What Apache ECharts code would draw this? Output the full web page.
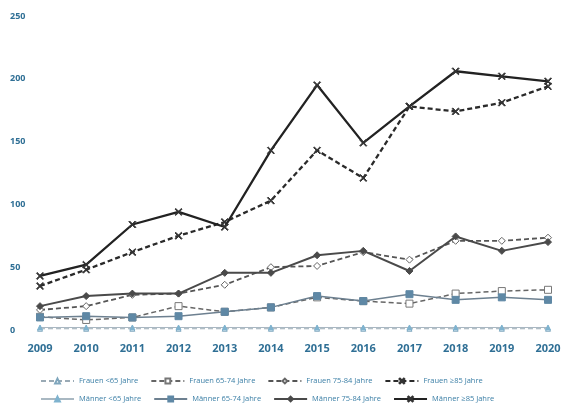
<!DOCTYPE html>
<html>
<head>
<meta charset="utf-8">
<script src="https://cdn.jsdelivr.net/npm/echarts@6/dist/echarts.min.js"></script>
<style>
  html, body { margin: 0; padding: 0; background: #fff; }
  #chart { width: 565px; height: 405px; }
</style>
</head>
<body>
<div id="chart"></div>
<script>
const jahre = ['2009', '2010', '2011', '2012', '2013', '2014', '2015', '2016', '2017', '2018', '2019', '2020'];

const frauenUnter65 = [1, 1, 1, 1, 1, 1, 1, 1, 1, 1, 1, 1];
const frauen65bis74 = [10.5, 8, 10, 19, 14.5, 18, 26, 23, 21, 29, 31, 32];
const frauen75bis84 = [16, 19, 28, 29, 36, 50, 51, 62, 56, 71, 71, 73.5];
const frauenAb85 = [35, 48, 62, 75, 86, 103, 143, 121, 178, 174, 181, 194];

const maennerUnter65 = [2, 2, 2, 2, 2, 2, 2, 2, 2, 2, 2, 2];
const maenner65bis74 = [10, 11, 10, 11, 14.5, 18, 27, 23, 28.5, 24, 26, 24];
const maenner75bis84 = [19, 27, 29, 29, 45.5, 45.5, 59.5, 63, 47, 74.5, 63, 70];
const maennerAb85 = [43, 52, 84, 94, 82, 143, 195, 149, 178, 206, 202, 198];

const yTicks = [0, 50, 100, 150, 200, 250];

const chart = echarts.init(document.getElementById('chart'));

// Kreuz als Marker (gefüllte Form, damit es sichtbar ist)
const kreuz = 'path://M0,1L1,0L5,4L9,0L10,1L6,5L10,9L9,10L5,6L1,10L0,9L4,5Z';

function reihe(name, data, opts) {
  return {
    name: name,
    type: 'line',
    data: data,
    symbol: opts.symbol,
    symbolSize: opts.size,
    showSymbol: true,
    z: opts.z || 2,
    lineStyle: { color: opts.line, width: opts.width, type: opts.dashed ? [5, 3] : 'solid' },
    itemStyle: {
      color: opts.fill,
      borderColor: opts.border,
      borderWidth: 1
    }
  };
}

const blau = '#3b7fa6';
const legendText = { color: blau, fontSize: 7.5, fontFamily: 'Open Sans' };

let option = {
  animation: false,
  backgroundColor: '#fff',
  grid: { left: 40, right: 17, top: 16, bottom: 75 },
  legend: [
    {
      data: ['Frauen <65 Jahre', 'Frauen 65-74 Jahre', 'Frauen 75-84 Jahre', 'Frauen ≥85 Jahre'],
      left: 35, top: 372, itemWidth: 33, itemHeight: 6, itemGap: 12,
      textStyle: legendText
    },
    {
      data: ['Männer <65 Jahre', 'Männer 65-74 Jahre', 'Männer 75-84 Jahre', 'Männer ≥85 Jahre'],
      left: 35, top: 390, itemWidth: 33, itemHeight: 6, itemGap: 12,
      textStyle: legendText
    }
  ],
  xAxis: {
    type: 'category',
    data: jahre,
    boundaryGap: false,
    axisLine: { show: false },
    axisTick: { show: false },
    axisLabel: { color: '#2f6f95', fontWeight: 'bold', fontSize: 11, fontFamily: 'Open Sans', margin: 13 }
  },
  yAxis: {
    type: 'value',
    min: yTicks[0],
    max: yTicks[yTicks.length - 1],
    interval: 50,
    splitLine: { show: false },
    axisLine: { show: false },
    axisTick: { show: false },
    axisLabel: {
      color: '#2f6f95', fontWeight: 'bold', fontSize: 9, fontFamily: 'Open Sans',
      align: 'left', margin: 30
    }
  },
  series: [
    reihe('Frauen <65 Jahre', frauenUnter65, { symbol: 'triangle', size: 5, line: '#9aaab5', width: 1, dashed: true, fill: '#fff', border: '#7fa6bd' }),
    reihe('Frauen 65-74 Jahre', frauen65bis74, { symbol: 'rect', size: 7, line: '#666', width: 1.5, dashed: true, fill: '#fff', border: '#777' }),
    reihe('Frauen 75-84 Jahre', frauen75bis84, { symbol: 'diamond', size: 7, line: '#555', width: 1.8, dashed: true, fill: '#fff', border: '#666' }),
    reihe('Frauen ≥85 Jahre', frauenAb85, { symbol: kreuz, size: 7, line: '#2a2a2a', width: 2.3, dashed: true, fill: '#333', border: '#333', z: 4 }),
    reihe('Männer <65 Jahre', maennerUnter65, { symbol: 'triangle', size: 5, line: '#a9b8c2', width: 1, dashed: false, fill: '#7fb3cf', border: '#7fb3cf' }),
    reihe('Männer 65-74 Jahre', maenner65bis74, { symbol: 'rect', size: 7, line: '#6d8090', width: 1.5, dashed: false, fill: '#5f88a5', border: '#5f88a5' }),
    reihe('Männer 75-84 Jahre', maenner75bis84, { symbol: 'diamond', size: 7, line: '#4a4a4a', width: 2, dashed: false, fill: '#4a4a4a', border: '#4a4a4a', z: 3 }),
    reihe('Männer ≥85 Jahre', maennerAb85, { symbol: kreuz, size: 7, line: '#222', width: 2.3, dashed: false, fill: '#333', border: '#333', z: 5 })
  ]
};

chart.setOption(option);
</script>
</body>
</html>
